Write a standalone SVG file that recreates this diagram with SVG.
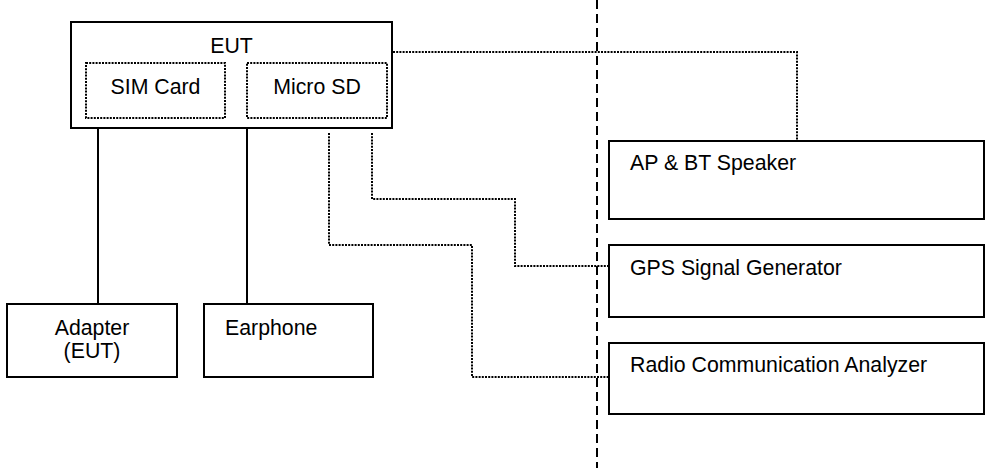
<svg xmlns="http://www.w3.org/2000/svg" width="985" height="472" viewBox="0 0 985 472">
<style>
.box{fill:#fff;stroke:#000;stroke-width:2}
.sub{fill:none;stroke:#000;stroke-width:2;stroke-dasharray:2 1.2}
.dot{fill:none;stroke:#000;stroke-width:2;stroke-dasharray:2 1.2}
.solid{fill:none;stroke:#000;stroke-width:2}
.dash{fill:none;stroke:#000;stroke-width:2;stroke-dasharray:9 5}
text{font-family:"Liberation Sans",Arial,sans-serif;font-size:21.3px;fill:#000}
.c{text-anchor:middle}
</style>
<rect width="985" height="472" fill="#fff"/>
<g id="connectors">
<line class="dash" x1="597" y1="0" x2="597" y2="468"/>
<polyline class="solid" points="98,129 98,304"/>
<polyline class="solid" points="247,129 247,304"/>
<polyline class="dot" points="393,52 797,52 797,140"/>
<polyline class="dot" points="372,133 372,199 515,199 515,266 609,266"/>
<polyline class="dot" points="329,133 329,245 472,245 472,377 609,377"/>
</g>
<g id="eut">
<rect class="box" x="71" y="22" width="321" height="106"/>
<text class="c" x="231.5" y="53">EUT</text>
</g>
<g id="sim">
<rect class="sub" x="86" y="63" width="139" height="55"/>
<text class="c" x="155.5" y="94">SIM Card</text>
</g>
<g id="microsd">
<rect class="sub" x="247" y="63" width="140" height="55"/>
<text class="c" x="317" y="94">Micro SD</text>
</g>
<g id="adapter">
<rect class="box" x="7" y="304" width="170" height="73"/>
<text class="c" x="92" y="335">Adapter</text>
<text class="c" x="92" y="358">(EUT)</text>
</g>
<g id="earphone">
<rect class="box" x="204" y="304" width="169" height="73"/>
<text x="225" y="335">Earphone</text>
</g>
<g id="ap">
<rect class="box" x="609" y="141" width="375" height="78"/>
<text x="630" y="170">AP &amp; BT Speaker</text>
</g>
<g id="gps">
<rect class="box" x="609" y="245" width="375" height="72"/>
<text x="630" y="275">GPS Signal Generator</text>
</g>
<g id="radio">
<rect class="box" x="609" y="343" width="375" height="71"/>
<text x="630" y="372">Radio Communication Analyzer</text>
</g>
</svg>
